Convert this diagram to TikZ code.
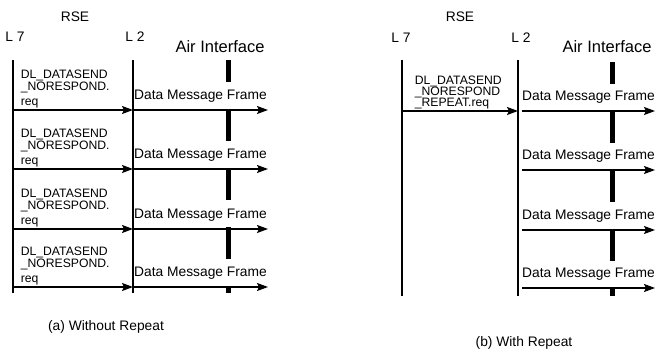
\documentclass[tikz,border=0pt]{standalone}
\usepackage{fontspec}
\setmainfont{Liberation Sans}
\usetikzlibrary{arrows.meta, positioning}
\tikzset{
    tag/.style={font=\fontsize{13.8}{15}\selectfont, inner sep=0pt},
    airtag/.style={font=\fontsize{16.5}{18}\selectfont, inner sep=0pt},
    primitive/.style={font=\fontsize{12.2}{12}\selectfont, align=left, inner sep=0pt, anchor=south west, yshift=1pt},
    framelabel/.style={tag, midway, above=7pt},
    lifeline/.style={line width=1.3pt},
    airline/.style={line width=5pt, dash pattern=on 32pt off 27pt, dash phase=10pt},
    arrow/.style={line width=1.6pt,-{Stealth[length=11pt, width=8pt, inset=2pt]}}
}

\begin{document}
\begin{tikzpicture}[x=1pt, y=-1pt]
\useasboundingbox (0,0) rectangle (657,350);

% (a) Without Repeat: headers
\node[tag] (rseA) at (75,17) {RSE};
\node[tag] (l7A) at (15,37) {L 7};
\node[tag] (l2A) at (135,37) {L 2};
\node[airtag] (airA) at (220,47) {Air Interface};

% (a) lifelines
\coordinate (l7Atop) at (13,60);  \coordinate (l7Abot) at (13,293);
\coordinate (l2Atop) at (133,60); \coordinate (l2Abot) at (133,293);
\coordinate (airAtop) at (228,60); \coordinate (airAbot) at (228,293);
\coordinate (endA) at (268,0);
\draw[lifeline] (l7Atop) -- (l7Abot);
\draw[lifeline] (l2Atop) -- (l2Abot);
\draw[airline] (airAtop) -- (airAbot);

% (a) one request per frame
\coordinate (rowA1) at (0,110);
\coordinate (rowA2) at (0,169);
\coordinate (rowA3) at (0,229);
\coordinate (rowA4) at (0,287);

\draw[arrow] (l7Atop |- rowA1) node[primitive, xshift=7pt] (reqA1) {DL\_DATASEND\\\_NORESPOND.\\[3pt]req} -- (l2Atop |- rowA1);
\draw[arrow] (l2Atop |- rowA1) -- node[framelabel] (dmfA1) {Data Message Frame} (endA |- rowA1);

\draw[arrow] (l7Atop |- rowA2) node[primitive, xshift=7pt] (reqA2) {DL\_DATASEND\\\_NORESPOND.\\[3pt]req} -- (l2Atop |- rowA2);
\draw[arrow] (l2Atop |- rowA2) -- node[framelabel] (dmfA2) {Data Message Frame} (endA |- rowA2);

\draw[arrow] (l7Atop |- rowA3) node[primitive, xshift=7pt] (reqA3) {DL\_DATASEND\\\_NORESPOND.\\[3pt]req} -- (l2Atop |- rowA3);
\draw[arrow] (l2Atop |- rowA3) -- node[framelabel] (dmfA3) {Data Message Frame} (endA |- rowA3);

\draw[arrow] (l7Atop |- rowA4) node[primitive, xshift=7pt] (reqA4) {DL\_DATASEND\\\_NORESPOND.\\[3pt]req} -- (l2Atop |- rowA4);
\draw[arrow] (l2Atop |- rowA4) -- node[framelabel] (dmfA4) {Data Message Frame} (endA |- rowA4);

% (b) With Repeat: headers
\node[tag] (rseB) at (460,17) {RSE};
\node[tag] (l7B) at (401,38) {L 7};
\node[tag] (l2B) at (521,38) {L 2};
\node[airtag] (airB) at (607,47) {Air Interface};

% (b) lifelines
\coordinate (l7Btop) at (402,60);  \coordinate (l7Bbot) at (402,296);
\coordinate (l2Btop) at (518,60);  \coordinate (l2Bbot) at (518,296);
\coordinate (airBtop) at (612,62); \coordinate (airBbot) at (612,296);
\coordinate (startB) at (522,0);
\coordinate (endB) at (655,0);
\draw[lifeline] (l7Btop) -- (l7Bbot);
\draw[lifeline] (l2Btop) -- (l2Bbot);
\draw[airline] (airBtop) -- (airBbot);

% (b) one request, repeated frames
\coordinate (rowB1) at (0,111);
\coordinate (rowB2) at (0,170);
\coordinate (rowB3) at (0,230);
\coordinate (rowB4) at (0,288);

\draw[arrow] (l7Btop |- rowB1) node[primitive, xshift=12pt, font=\fontsize{12.2}{11}\selectfont] (reqB1) {DL\_DATASEND\\\_NORESPOND\\\_REPEAT.req} -- (l2Btop |- rowB1);
\draw[arrow] (startB |- rowB1) -- node[framelabel] (dmfB1) {Data Message Frame} (endB |- rowB1);
\draw[arrow] (startB |- rowB2) -- node[framelabel] (dmfB2) {Data Message Frame} (endB |- rowB2);
\draw[arrow] (startB |- rowB3) -- node[framelabel] (dmfB3) {Data Message Frame} (endB |- rowB3);
\draw[arrow] (startB |- rowB4) -- node[framelabel] (dmfB4) {Data Message Frame} (endB |- rowB4);

% Captions
\node[tag] (capA) at (106,327) {(a) Without Repeat};
\node[tag] (capB) at (524,343) {(b) With Repeat};

\end{tikzpicture}
\end{document}
